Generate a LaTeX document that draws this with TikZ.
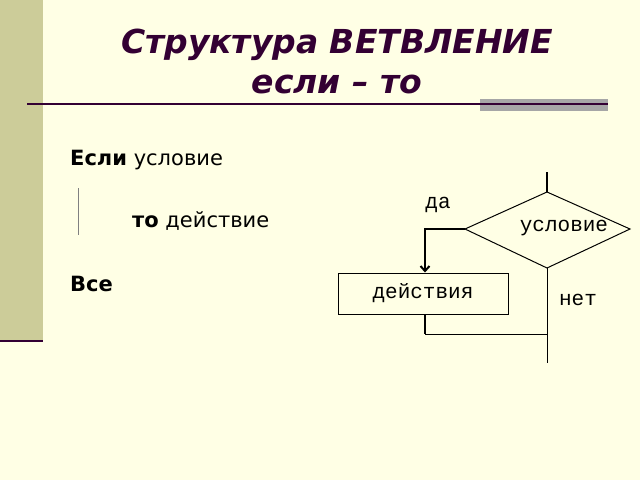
\documentclass[tikz,border=0pt]{standalone}
\usepackage{fontspec}
\setmainfont{DejaVu Sans}
\newfontfamily\monof{Liberation Mono}
\usetikzlibrary{arrows.meta}
\definecolor{bg}{HTML}{FFFFE5}
\definecolor{bar}{HTML}{CCCC99}
\definecolor{dark}{HTML}{330033}
\tikzset{fc/.style={line width=1pt,black},lbl/.style={font=\monof\fontsize{21}{21}\selectfont,inner sep=0pt},txt/.style={anchor=west,font=\fontsize{21}{21}\selectfont,inner sep=0pt}}
\begin{document}
\begin{tikzpicture}[x=1pt,y=-1pt]
\fill[bg] (0,0) rectangle (640,480);
\useasboundingbox (0,0) rectangle (640,480);
\fill[bar] (0,0) rectangle (43,340);
\draw[dark,line width=2pt] (0,341) -- (43,341);
\fill[gray!70] (480,99) rectangle (608,111);
\draw[dark,line width=1.3pt] (27,104) -- (608,104);
\node[text=dark,font=\bfseries\itshape\fontsize{33}{40}\selectfont,align=center] (title) at (337,61) {Структура ВЕТВЛЕНИЕ\\если – то};
\node[txt] (if) at (70,160) {\textbf{Если} условие};
\draw[gray,line width=0.8pt] (78,188) -- (78,235);
\node[txt] (then) at (132,221) {\textbf{то} действие};
\node[txt] (all) at (70,284) {\textbf{Все}};
% flowchart
\coordinate (top) at (547,192);
\coordinate (L) at (465,229);
\coordinate (R) at (630,229);
\coordinate (B) at (547,268);
\coordinate (in) at (547,172);
\draw[line width=2pt] (in) -- (top);
\draw[fc] (top) -- (R) -- (B) -- (L) -- cycle;
\node[lbl] (cond) at (564,228) {условие};
\node[lbl] (yes) at (438,205) {да};
\node[lbl] (no) at (578,300) {нет};
\node[draw,line width=1pt,minimum width=170pt,minimum height=41pt,inner sep=0pt,font=\monof\fontsize{21}{21}\selectfont] (act) at (423,293.5) {действия};
\coordinate (c1) at (425,229);
\coordinate (c2) at (425,334);
\coordinate (c3) at (547,334);
\coordinate (out) at (547,363);
\draw[line width=2pt,-{Straight Barb[length=5pt,width=9pt]}] (L) -- (c1) -- (c1 |- act.north);
\draw[line width=2pt] (c1 |- act.south) -- (c2);
\draw[fc] (c2) -- (c3);
\draw[fc] (B) -- (out);
\end{tikzpicture}
\end{document}
